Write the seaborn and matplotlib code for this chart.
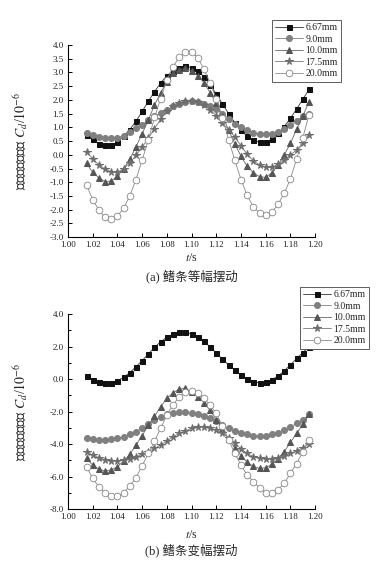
import numpy as np
import pandas as pd
import matplotlib
matplotlib.use('Agg')
import matplotlib.pyplot as plt
import seaborn as sns
from matplotlib.ticker import MultipleLocator, FormatStrFormatter

# time points (s)
t = [1.015, 1.020, 1.025, 1.030, 1.035, 1.040, 1.045, 1.050, 1.055, 1.060,
     1.065, 1.070, 1.075, 1.080, 1.085, 1.090, 1.095, 1.100, 1.105, 1.110,
     1.115, 1.120, 1.125, 1.130, 1.135, 1.140, 1.145, 1.150, 1.155, 1.160,
     1.165, 1.170, 1.175, 1.180, 1.185, 1.190, 1.195]

labels = ['6.67mm', '9.0mm', '10.0mm', '17.5mm', '20.0mm']

# (a) equal amplitude
a_667 = [0.72, 0.57, 0.40, 0.34, 0.36, 0.45, 0.68, 0.92, 1.22, 1.58, 1.95, 2.30, 2.62, 2.88, 3.06,
         3.18, 3.22, 3.18, 3.06, 2.84, 2.55, 2.21, 1.85, 1.50, 1.17, 0.90, 0.68, 0.53, 0.45, 0.46,
         0.57, 0.78, 1.03, 1.33, 1.67, 2.02, 2.38]
a_90 = [0.80, 0.72, 0.66, 0.62, 0.60, 0.62, 0.70, 0.82, 0.96, 1.10, 1.25, 1.40, 1.52, 1.64, 1.76,
        1.86, 1.92, 1.95, 1.92, 1.86, 1.78, 1.66, 1.50, 1.32, 1.14, 1.00, 0.90, 0.80, 0.75, 0.74,
        0.77, 0.84, 0.95, 1.08, 1.24, 1.40, 1.50]
a_100 = [-0.31, -0.64, -0.84, -0.98, -0.95, -0.78, -0.50, -0.17, 0.29, 0.76, 1.27, 1.81, 2.26, 2.66, 2.97,
         3.10, 3.15, 3.05, 2.88, 2.63, 2.26, 1.87, 1.41, 0.90, 0.40, -0.05, -0.42, -0.65, -0.80, -0.82,
         -0.65, -0.38, 0.00, 0.42, 0.93, 1.41, 1.93]
a_175 = [0.12, -0.15, -0.37, -0.52, -0.62, -0.64, -0.50, -0.30, -0.02, 0.28, 0.60, 0.95, 1.30, 1.60, 1.78,
         1.90, 1.95, 1.96, 1.92, 1.82, 1.65, 1.42, 1.15, 0.90, 0.66, 0.32, 0.02, -0.22, -0.37, -0.46,
         -0.46, -0.34, -0.20, 0.00, 0.17, 0.42, 0.72]
a_200 = [-1.10, -1.63, -2.02, -2.28, -2.35, -2.23, -1.95, -1.50, -0.90, -0.19, 0.54, 1.36, 2.05, 2.72, 3.21,
         3.55, 3.73, 3.76, 3.54, 3.12, 2.62, 2.05, 1.35, 0.55, -0.20, -0.90, -1.48, -1.90, -2.12, -2.20,
         -2.10, -1.80, -1.40, -0.88, -0.15, 0.62, 1.45]

# (b) variable amplitude
b_667 = [0.18, -0.06, -0.21, -0.27, -0.23, -0.10, 0.10, 0.39, 0.76, 1.13, 1.54, 1.94, 2.30, 2.56, 2.77,
         2.87, 2.87, 2.78, 2.60, 2.33, 1.97, 1.60, 1.22, 0.86, 0.55, 0.25, 0.00, -0.17, -0.23, -0.19,
         -0.04, 0.18, 0.51, 0.86, 1.27, 1.62, 2.00]
b_90 = [-3.65, -3.72, -3.74, -3.74, -3.72, -3.65, -3.55, -3.41, -3.24, -3.04, -2.79, -2.52, -2.32, -2.18, -2.07,
        -2.05, -2.05, -2.12, -2.18, -2.28, -2.42, -2.58, -2.83, -3.04, -3.20, -3.35, -3.41, -3.49, -3.50, -3.49,
        -3.41, -3.30, -3.14, -2.94, -2.73, -2.52, -2.18]
b_100 = [-4.89, -5.30, -5.55, -5.65, -5.60, -5.40, -5.05, -4.64, -4.06, -3.49, -2.83, -2.30, -1.70, -1.19, -0.85,
         -0.62, -0.58, -0.80, -1.10, -1.45, -1.93, -2.50, -3.10, -3.70, -4.25, -4.72, -5.12, -5.38, -5.50, -5.46,
         -5.25, -4.92, -4.47, -3.90, -3.35, -2.79, -2.18]
b_175 = [-4.47, -4.68, -4.84, -4.98, -5.03, -5.05, -5.00, -4.92, -4.78, -4.64, -4.47, -4.27, -4.06, -3.82, -3.55,
         -3.35, -3.20, -3.04, -2.98, -2.94, -3.04, -3.14, -3.35, -3.60, -3.92, -4.31, -4.58, -4.78, -4.89, -4.92,
         -4.92, -4.84, -4.72, -4.58, -4.43, -4.23, -3.98]
b_200 = [-5.40, -6.12, -6.63, -7.00, -7.22, -7.22, -7.00, -6.58, -6.07, -5.34, -4.58, -3.82, -3.04, -2.22, -1.60,
         -1.09, -0.78, -0.74, -0.88, -1.19, -1.60, -2.12, -2.90, -3.75, -4.58, -5.30, -5.90, -6.32, -6.70, -7.00,
         -7.04, -6.80, -6.42, -5.80, -5.20, -4.47, -3.75]

sns.set_style('white')
plt.rcParams['font.family'] = ['Liberation Serif', 'Noto Sans CJK SC']
plt.rcParams['mathtext.fontset'] = 'stix'
plt.rcParams['axes.unicode_minus'] = False

# marker styles per series
styles = {
    '6.67mm': dict(marker='s', markersize=3.6, markerfacecolor='#111111', markeredgecolor='#111111', color='#333333'),
    '9.0mm': dict(marker='o', markersize=4.3, markerfacecolor='#808080', markeredgecolor='#808080', color='#808080'),
    '10.0mm': dict(marker='^', markersize=4.6, markerfacecolor='#555555', markeredgecolor='#555555', color='#666666'),
    '17.5mm': dict(marker='*', markersize=5.5, markerfacecolor='#6e6e6e', markeredgecolor='#6e6e6e', color='#777777'),
    '20.0mm': dict(marker='o', markersize=4.8, markerfacecolor='white', markeredgecolor='#858585',
                   markeredgewidth=0.6, color='#8a8a8a'),
}


def draw_panel(ax, series, ylim, major, minor, yfmt):
    df = pd.DataFrame({'t': t})
    for name, vals in zip(labels, series):
        df[name] = vals
    for name in labels:
        sns.lineplot(data=df, x='t', y=name, ax=ax, label=name, linewidth=0.6, **styles[name])
    ax.set_xlim(1.00, 1.20)
    ax.set_ylim(*ylim)
    ax.xaxis.set_major_locator(MultipleLocator(0.02))
    ax.xaxis.set_major_formatter(FormatStrFormatter('%.2f'))
    ax.yaxis.set_major_locator(MultipleLocator(major))
    if minor:
        ax.yaxis.set_minor_locator(MultipleLocator(minor))
    ax.yaxis.set_major_formatter(FormatStrFormatter(yfmt))
    ax.set_xlabel('')
    ax.set_ylabel('无量纲阻力系数 $C_d$/$10^{-6}$', fontsize=10)
    ax.yaxis.set_label_coords(-0.155, 0.5)
    sns.despine(ax=ax)
    for s in ['left', 'bottom']:
        ax.spines[s].set_color('black')
        ax.spines[s].set_linewidth(0.8)
    ax.tick_params(which='both', direction='in', bottom=True, left=True, width=0.7, colors='black',
                   labelsize=6.5, pad=3)
    ax.tick_params(which='major', length=3)
    ax.tick_params(which='minor', length=2)
    for lab in ax.get_xticklabels() + ax.get_yticklabels():
        lab.set_color('#222222')


fig = plt.figure(figsize=(3.82, 5.66), dpi=100)
ax1 = fig.add_axes([0.178, 0.581, 0.647, 0.3395])
ax2 = fig.add_axes([0.178, 0.1007, 0.647, 0.3445])

draw_panel(ax1, [a_667, a_90, a_100, a_175, a_200], (-3.0, 4.0), 0.5, None, '%.1f')
draw_panel(ax2, [b_667, b_90, b_100, b_175, b_200], (-8.0, 4.0), 2.0, 1.0, '%.1f')

for ax, (lx, ly) in [(ax1, (272, 20)), (ax2, (300, 287))]:
    leg = ax.legend(loc='upper left', bbox_to_anchor=(lx / 382, 1 - ly / 566), bbox_transform=fig.transFigure,
                    fontsize=7, frameon=True, fancybox=False, framealpha=1, edgecolor='#444444',
                    borderpad=0.35, labelspacing=0.25, handlelength=2.8, handletextpad=0.3, borderaxespad=0)
    leg.get_frame().set_linewidth(0.6)
    leg.set_zorder(10)

fig.text(0.501, 1 - 258 / 566, '$t$/s', ha='center', va='center', fontsize=8.5)
fig.text(0.501, 1 - 276 / 566, '(a) 鳍条等幅摆动', ha='center', va='center', fontsize=9)
fig.text(0.501, 1 - 535 / 566, '$t$/s', ha='center', va='center', fontsize=8.5)
fig.text(0.501, 1 - 550 / 566, '(b) 鳍条变幅摆动', ha='center', va='center', fontsize=9)

fig.savefig('out.png', dpi=100, facecolor='white')
